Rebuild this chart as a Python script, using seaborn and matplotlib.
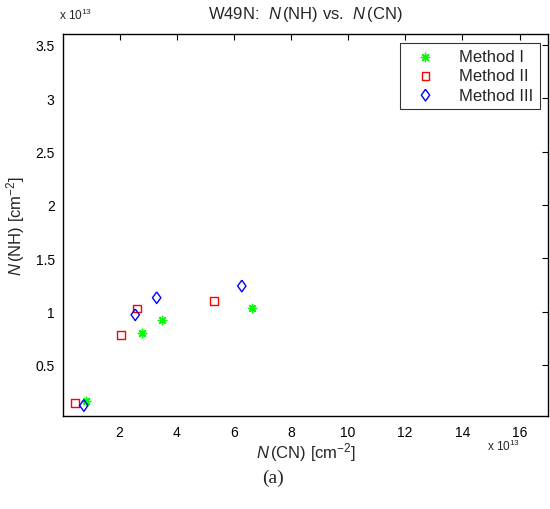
import pandas as pd
import seaborn as sns
import matplotlib.pyplot as plt
import numpy as np

# column densities, units of 1e13 cm^-2
cn_m1 = [0.81, 2.79, 3.49, 6.63]
nh_m1 = [0.16, 0.80, 0.92, 1.03]
cn_m2 = [0.45, 2.06, 2.62, 5.31]
nh_m2 = [0.145, 0.78, 1.03, 1.10]
cn_m3 = [0.75, 2.55, 3.30, 6.28]
nh_m3 = [0.12, 0.97, 1.13, 1.24]
methods = ["Method I", "Method II", "Method III"]

sns.set_style("white")
plt.rcParams['font.family'] = ['Liberation Sans', 'DejaVu Sans']
plt.rcParams['mathtext.fontset'] = 'custom'
plt.rcParams['mathtext.rm'] = 'Liberation Sans'
plt.rcParams['mathtext.it'] = 'Liberation Sans:italic'

# matlab-like diamond, a bit taller than wide
diamond = [(0, 1), (0.72, 0), (0, -1), (-0.72, 0), (0, 1)]

fig = plt.figure(figsize=(5.5, 5.1), dpi=100)
ax = fig.add_axes([0.1145, 0.182, 0.882, 0.749])

sns.scatterplot(x=cn_m1, y=nh_m1, ax=ax, marker=(8, 2, 0), s=36,
                color=(0, 1, 0), edgecolor=(0, 1, 0), linewidth=1, label=methods[0])
sns.scatterplot(x=cn_m2, y=nh_m2, ax=ax, marker="s", s=30,
                facecolor="none", edgecolor="red", linewidth=1, label=methods[1])
sns.scatterplot(x=cn_m3, y=nh_m3, ax=ax, marker=diamond, s=70,
                facecolor="none", edgecolor="blue", linewidth=1, label=methods[2])

ax.set_xlim(0.02, 17.0)
ax.set_ylim(0.02, 3.6)
ax.set_xticks(np.arange(2, 17, 2))
ax.set_yticks([0.5, 1, 1.5, 2, 2.5, 3, 3.5])
ax.set_yticklabels(["0.5", "1", "1.5", "2", "2.5", "3", "3.5"])
ax.tick_params(direction="in", top=True, right=True, length=4, width=0.8,
               labelsize=10, pad=6, colors="black")
for sp in ax.spines.values():
    sp.set_color("black")
    sp.set_linewidth(1)

ax.set_xlabel(r"$N\,$(CN) [cm$^{-2}$]", fontsize=12, labelpad=1)
ax.set_ylabel(r"$N\,$(NH) [cm$^{-2}$]", fontsize=12, labelpad=6)
ax.set_title(r"W49N:  $N\,$(NH) vs.  $N\,$(CN)", fontsize=12, pad=12)

fig.text(0.108, 0.955, r"x 10$^{13}$", fontsize=8.5, ha="left", va="bottom")
fig.text(0.885, 0.124, r"x 10$^{13}$", fontsize=8.5, ha="left", va="center")
fig.text(0.497, 0.062, "(a)", fontsize=14, ha="center", va="center",
         family=["Liberation Serif", "DejaVu Serif"])

leg = ax.legend(loc="upper right", fontsize=12, frameon=True, fancybox=False,
                edgecolor="black", borderaxespad=0.5, handletextpad=0.9,
                handlelength=2.2, labelspacing=0.25, borderpad=0.4)
leg.get_frame().set_linewidth(0.8)

fig.savefig("out.png", dpi=100)
